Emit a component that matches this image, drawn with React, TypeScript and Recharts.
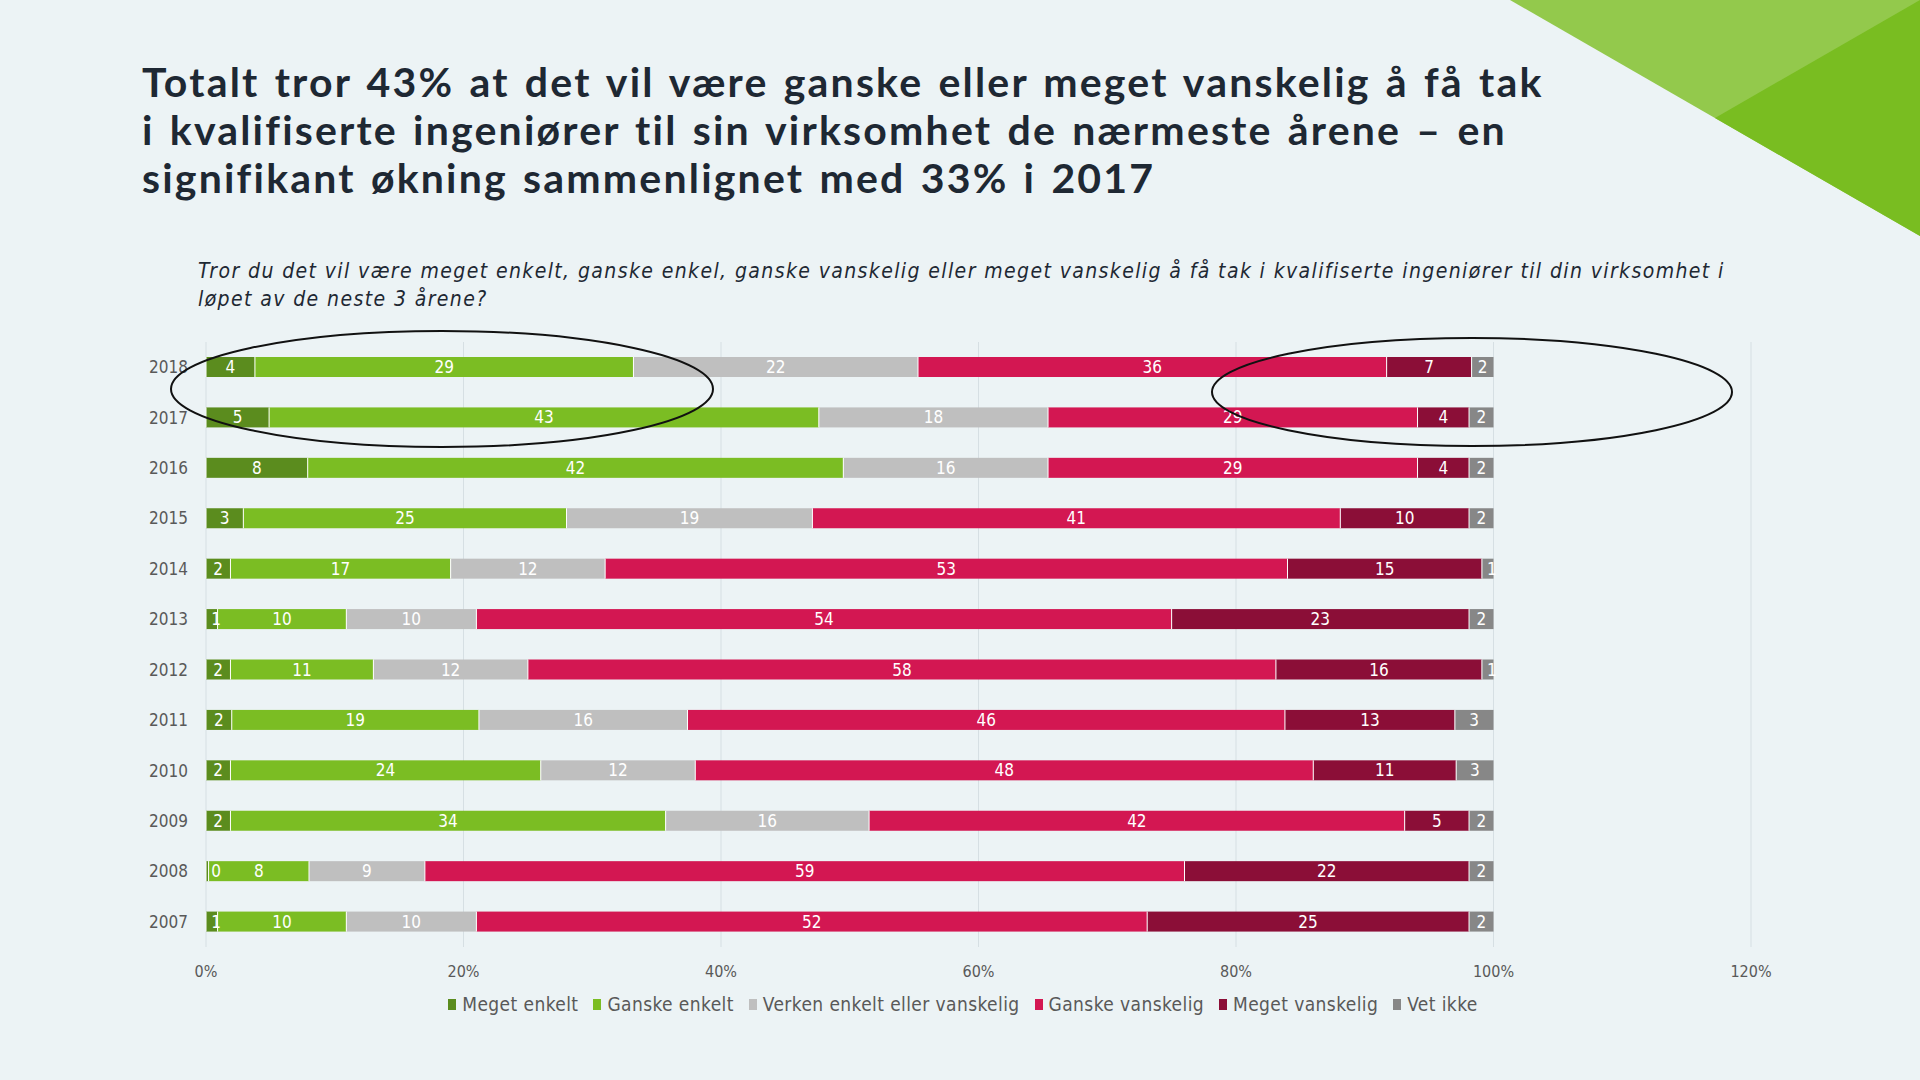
import { BarChart, Bar, XAxis, YAxis, CartesianGrid, LabelList } from "recharts";

const years = ["2018", "2017", "2016", "2015", "2014", "2013", "2012", "2011", "2010", "2009", "2008", "2007"];

const megetEnkelt = [3.8, 4.9, 7.9, 2.9, 1.9, 0.9, 1.9, 2.0, 1.9, 1.9, 0.2, 0.9];
const ganskeEnkelt = [29.4, 42.7, 41.6, 25.1, 17.1, 10.0, 11.1, 19.2, 24.1, 33.8, 7.8, 10.0];
const verken = [22.1, 17.8, 15.9, 19.1, 12.0, 10.1, 12.0, 16.2, 12.0, 15.8, 9.0, 10.1];
const ganskeVanskelig = [36.4, 28.7, 28.7, 41.0, 53.0, 54.0, 58.1, 46.4, 48.0, 41.6, 59.0, 52.1];
const megetVanskelig = [6.6, 4.0, 4.0, 10.0, 15.1, 23.1, 16.0, 13.2, 11.1, 5.0, 22.1, 25.0];
const vetIkke = [1.7, 1.9, 1.9, 1.9, 0.9, 1.9, 0.9, 3.0, 2.9, 1.9, 1.9, 1.9];

const xTicks = [0, 20, 40, 60, 80, 100, 120];

const series = [
  { key: "me", name: "Meget enkelt", color: "#5B8C1E", values: megetEnkelt },
  { key: "ge", name: "Ganske enkelt", color: "#7BBD23", values: ganskeEnkelt },
  { key: "vk", name: "Verken enkelt eller vanskelig", color: "#BFBFBF", values: verken },
  { key: "gv", name: "Ganske vanskelig", color: "#D31752", values: ganskeVanskelig },
  { key: "mv", name: "Meget vanskelig", color: "#8B0E37", values: megetVanskelig },
  { key: "vi", name: "Vet ikke", color: "#878787", values: vetIkke },
];

const data = years.map((year, i) => {
  const row: any = { year };
  series.forEach((s) => (row[s.key] = s.values[i]));
  return row;
});

const FONT = "'DejaVu Sans Condensed', 'DejaVu Sans', sans-serif";

function Segment(props: any) {
  const { x, y, width, height, fill } = props;
  if (!width || width <= 0) return null;
  return (
    <g>
      <rect x={x} y={y} width={width} height={height} fill={fill} />
      <line x1={x} x2={x} y1={y} y2={y + height} stroke="#ffffff" strokeWidth={1} />
    </g>
  );
}

function SegLabel(props: any) {
  const { x, y, width, height, value } = props;
  const cx = x + Math.max(width / 2, 10);
  return (
    <text
      x={cx}
      y={y + height / 2}
      fill="#ffffff"
      fontSize={17}
      fontFamily={FONT}
      textAnchor="middle"
      dominantBaseline="central"
    >
      {Math.round(value)}
    </text>
  );
}

export default function App() {
  return (
    <div
      style={{
        position: "absolute",
        left: 0,
        top: 0,
        width: 1920,
        height: 1080,
        background: "#ECF3F5",
        overflow: "hidden",
        fontFamily: FONT,
      }}
    >
      <svg style={{ position: "absolute", left: 0, top: 0 }} width={1920} height={1080}>
        <polygon points="1510,0 1920,0 1920,236" fill="#93C94C" />
        <polygon points="1715,118 1920,0 1920,236" fill="#79BD21" />
      </svg>

      <div
        style={{
          position: "absolute",
          left: 142,
          top: 58,
          fontFamily: "Lato, sans-serif",
          fontWeight: 700,
          fontSize: 41,
          letterSpacing: 2.2,
          wordSpacing: 3,
          lineHeight: "48px",
          color: "#1E2833",
          whiteSpace: "nowrap",
        }}
      >
        Totalt tror 43% at det vil være ganske eller meget vanskelig å få tak
        <br />i kvalifiserte ingeniører til sin virksomhet de nærmeste årene – en
        <br />
        signifikant økning sammenlignet med 33% i 2017
      </div>

      <div
        style={{
          position: "absolute",
          left: 198,
          top: 257,
          fontStyle: "italic",
          fontSize: 21,
          letterSpacing: 1.4,
          lineHeight: "28px",
          color: "#1E2833",
          whiteSpace: "nowrap",
        }}
      >
        Tror du det vil være meget enkelt, ganske enkel, ganske vanskelig eller meget vanskelig å få tak i kvalifiserte ingeniører til din virksomhet i
        <br />
        løpet av de neste 3 årene?
      </div>

      <div style={{ position: "absolute", left: 0, top: 0 }}>
        <BarChart
          width={1920}
          height={1080}
          data={data}
          layout="vertical"
          margin={{ top: 342, right: 169, bottom: 103, left: 0 }}
          barSize={20}
        >
          <CartesianGrid horizontal={false} stroke="#D6DFE3" />
          <XAxis
            type="number"
            domain={[0, 120]}
            ticks={xTicks}
            tickFormatter={(v) => `${v}%`}
            axisLine={false}
            tickLine={false}
            tickSize={0}
            tickMargin={19}
            height={30}
            tick={{ fill: "#595959", fontSize: 16, fontFamily: FONT }}
          />
          <YAxis
            type="category"
            dataKey="year"
            width={206}
            axisLine={false}
            tickLine={false}
            tickSize={0}
            tickMargin={18}
            tick={{ fill: "#595959", fontSize: 17, fontFamily: FONT }}
          />
          {series.map((s) => (
            <Bar
              key={s.key}
              dataKey={s.key}
              name={s.name}
              stackId="a"
              fill={s.color}
              shape={<Segment />}
              isAnimationActive={false}
            >
              <LabelList dataKey={s.key} content={<SegLabel />} />
            </Bar>
          ))}
        </BarChart>
      </div>

      <svg style={{ position: "absolute", left: 0, top: 0, pointerEvents: "none" }} width={1920} height={1080}>
        <ellipse cx={442} cy={389} rx={271} ry={58} fill="none" stroke="#111111" strokeWidth={2} />
        <ellipse cx={1472} cy={392} rx={260} ry={54} fill="none" stroke="#111111" strokeWidth={2} />
      </svg>

      <div
        style={{
          position: "absolute",
          left: 0,
          width: 1926,
          top: 991,
          display: "flex",
          justifyContent: "center",
          gap: 15,
          fontSize: 19,
          letterSpacing: 0.4,
          color: "#595959",
          lineHeight: "26px",
        }}
      >
        {series.map((s) => (
          <div key={s.key} style={{ display: "flex", alignItems: "center", gap: 6 }}>
            <span style={{ display: "inline-block", width: 8, height: 11, background: s.color }} />
            <span>{s.name}</span>
          </div>
        ))}
      </div>
    </div>
  );
}
